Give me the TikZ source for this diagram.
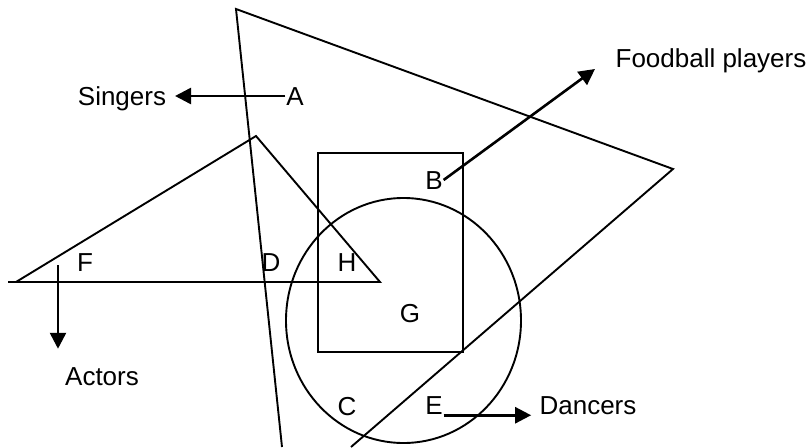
\documentclass[tikz,border=0pt]{standalone}
\usepackage{fontspec}
\setmainfont{Liberation Sans}
\usetikzlibrary{arrows.meta}
\tikzset{
  lbl/.style={font=\fontsize{26}{30}\selectfont, inner sep=0pt, text height=18.6pt, text depth=0pt},
  arr/.style={line width=2.6pt, -{Triangle[length=16pt,width=16pt]}}
}
\begin{document}
\begin{tikzpicture}[x=1pt,y=-1pt,line width=1.9pt]
\useasboundingbox (0,0) rectangle (811,447);
\draw (282,447) -- (236,9) -- (673,169) -- (351,447);
\draw (8,282) -- (380,282) -- (256,136) -- (16,282);
\draw (318,153) rectangle (463,352);
\draw (403.5,320.5) ellipse [x radius=117.5pt, y radius=122.5pt];
\node[lbl] (singers) at (122,96) {Singers};
\node[lbl] (A) at (295,96) {A};
\node[lbl] (foodball) at (711,58) {Foodball players};
\node[lbl] (B) at (434,180) {B};
\node[lbl] (F) at (85,262) {F};
\node[lbl] (D) at (271,262) {D};
\node[lbl] (H) at (347,262) {H};
\node[lbl] (G) at (410,313) {G};
\node[lbl] (actors) at (102,376) {Actors};
\node[lbl] (C) at (347,406) {C};
\node[lbl] (E) at (434,405) {E};
\node[lbl] (dancers) at (588,405) {Dancers};
\coordinate (fptip) at (595,69);
\coordinate (fstart) at (58,265);
\draw[arr, shorten >=8pt] (A.west) -- (singers.east);
\draw[arr] (B.east) -- (fptip);
\draw[arr, shorten >=17pt] (fstart) -- (fstart |- actors.north);
\draw[arr, shorten >=7.5pt] (E.south east) -- (E.south east -| dancers.west);
\end{tikzpicture}
\end{document}
